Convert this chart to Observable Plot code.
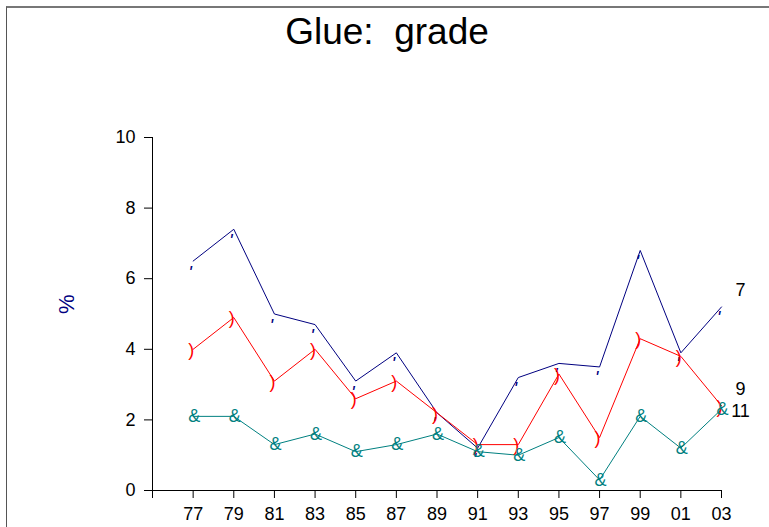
<!DOCTYPE html>
<html><head><meta charset="utf-8">
<script src="https://cdn.jsdelivr.net/npm/d3@7"></script>
<script src="https://cdn.jsdelivr.net/npm/@observablehq/plot@0.6"></script>
<style>
html,body{margin:0;padding:0;background:#fff;}
#wrap{position:relative;width:769px;height:527px;overflow:hidden;background:#fff;}
#wrap svg{position:absolute;left:0;top:0;}
#frame{position:absolute;left:6px;top:6px;width:900px;height:700px;border-left:1px solid #555;border-top:2px solid #777;pointer-events:none;}
</style></head><body><div id="wrap"><div id="frame"></div></div>
<script>
const title = "Glue:  grade";
const yLabel = "%";
const years = [1977,1979,1981,1983,1985,1987,1989,1991,1993,1995,1997,1999,2001,2003];
const xTickLabels = ["77","79","81","83","85","87","89","91","93","95","97","99","01","03"];
const yTicks = [0,2,4,6,8,10];
const seriesNames = ["7","9","11"];
const grade7  = [6.5,7.4,5.0,4.7,3.1,3.9,2.2,1.2,3.2,3.6,3.5,6.8,3.9,5.2];
const grade9  = [4.0,4.9,3.1,4.0,2.6,3.1,2.2,1.3,1.3,3.3,1.5,4.3,3.8,2.4];
const grade11 = [2.1,2.1,1.3,1.6,1.1,1.3,1.6,1.1,1.0,1.5,0.3,2.1,1.2,2.3];

const seriesValues = [grade7, grade9, grade11];
const styles = [
  {color:"#000080", glyph:"'", fontSize:19, fontStyle:"italic", dx:-3, dy:4, lineAnchor:"top", labelDy:-17},
  {color:"#ff0000", glyph:")", fontSize:18, fontStyle:"normal", dx:-2, dy:1, lineAnchor:"middle", labelDy:-17},
  {color:"#008080", glyph:"&", fontSize:18, fontStyle:"normal", dx:1, dy:0, lineAnchor:"middle", labelDy:2}
];
const series = seriesNames.map((name, i) => ({
  name,
  rows: years.map((year, j) => ({year, value: seriesValues[i][j]})),
  style: styles[i]
}));

const marks = [
  Plot.ruleX([1975], {y1: 0, y2: 10, stroke: "black"}),
  Plot.ruleY([0], {x1: 1975, x2: 2003, stroke: "black"}),
  Plot.axisY({ticks: yTicks, tickSize: 8, tickPadding: 9, fontSize: 18, label: null}),
  Plot.axisX({ticks: [1975, ...years], tickSize: 8, tickPadding: 9, fontSize: 18, label: null,
    tickFormat: d => d === 1975 ? "" : xTickLabels[years.indexOf(d)]})
];
for (const s of series) {
  marks.push(Plot.line(s.rows, {x: "year", y: "value", stroke: s.style.color, strokeWidth: 1}));
}
for (const s of series) {
  marks.push(Plot.text(s.rows, {x: "year", y: "value", text: () => s.style.glyph,
    fill: s.style.color, fontSize: s.style.fontSize, fontStyle: s.style.fontStyle,
    dx: s.style.dx, dy: s.style.dy, lineAnchor: s.style.lineAnchor}));
  const last = s.rows[s.rows.length - 1];
  marks.push(Plot.text([last], {x: "year", y: "value", text: () => s.name, fill: "black",
    fontSize: 18, dx: 19, dy: s.style.labelDy, textAnchor: "middle"}));
}
marks.push(Plot.text([title], {frameAnchor: "top", lineAnchor: "bottom", dy: -94, dx: -50,
  fontSize: 37, fill: "black"}));
marks.push(Plot.text([yLabel], {frameAnchor: "left", rotate: -90, dx: -86, fontSize: 22,
  fill: "#000080"}));

const chart = Plot.plot({
  width: 769, height: 527,
  marginLeft: 152, marginRight: 48, marginTop: 137, marginBottom: 37,
  style: {fontFamily: "'Liberation Sans', Arial, sans-serif", background: "transparent", color: "black", overflow: "visible"},
  x: {domain: [1975, 2003]},
  y: {domain: [0, 10]},
  marks
});
document.getElementById("wrap").insertBefore(chart, document.getElementById("frame"));
</script></body></html>
